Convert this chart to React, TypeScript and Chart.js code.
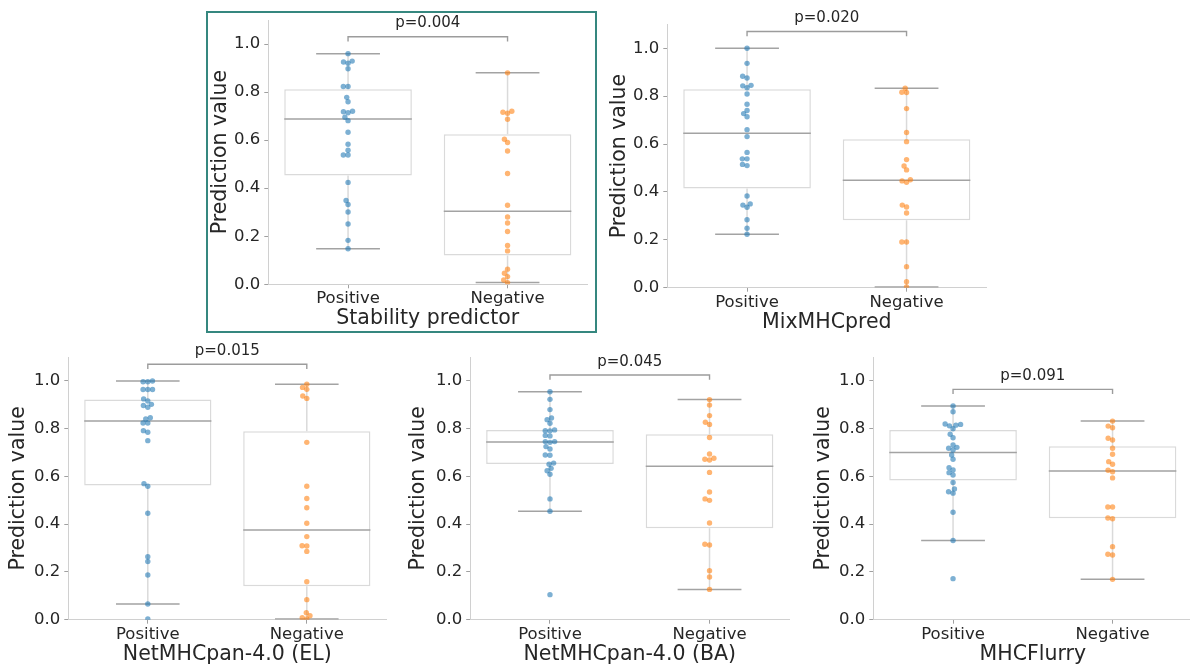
import React, { useEffect, useRef } from "react";
import { Chart, registerables } from "chart.js";

Chart.register(...registerables);

// ---- data -----------------------------------------------------------------

const categories = ["Positive", "Negative"];

const predictorNames = [
  "Stability predictor",
  "MixMHCpred",
  "NetMHCpan-4.0 (EL)",
  "NetMHCpan-4.0 (BA)",
  "MHCFlurry",
];

const pValueLabels = ["p=0.004", "p=0.020", "p=0.015", "p=0.045", "p=0.091"];

const yAxisTitle = "Prediction value";

const stabilityPositive = [
  0.96, 0.929, 0.925, 0.92, 0.897, 0.823, 0.823, 0.778, 0.76, 0.72, 0.718, 0.714, 0.695,
  0.681, 0.633, 0.583, 0.558, 0.538, 0.538, 0.424, 0.349, 0.332, 0.301, 0.251, 0.183, 0.148,
];
const stabilityNegative = [
  0.88, 0.72, 0.716, 0.712, 0.687, 0.604, 0.59, 0.555, 0.461, 0.329, 0.28, 0.255, 0.22,
  0.162, 0.139, 0.063, 0.046, 0.032, 0.018, 0.007,
];

const mixPositive = [
  1.0, 0.937, 0.883, 0.876, 0.845, 0.843, 0.835, 0.809, 0.766, 0.74, 0.727, 0.714, 0.66,
  0.631, 0.565, 0.538, 0.538, 0.515, 0.51, 0.383, 0.35, 0.345, 0.336, 0.284, 0.248, 0.223,
];
const mixNegative = [
  0.833, 0.816, 0.815, 0.748, 0.648, 0.61, 0.535, 0.508, 0.492, 0.451, 0.446, 0.44, 0.345,
  0.337, 0.312, 0.191, 0.191, 0.088, 0.025, 0.003,
];

const elPositive = [
  1.0, 0.997, 0.997, 0.964, 0.964, 0.964, 0.925, 0.916, 0.902, 0.897, 0.89, 0.846, 0.841,
  0.824, 0.824, 0.792, 0.785, 0.75, 0.57, 0.559, 0.446, 0.264, 0.244, 0.187, 0.066, 0.003,
];
const elNegative = [
  0.986, 0.973, 0.965, 0.937, 0.927, 0.743, 0.559, 0.508, 0.469, 0.404, 0.348, 0.31, 0.309,
  0.286, 0.159, 0.084, 0.029, 0.017, 0.008, 0.003,
];

const baPositive = [
  0.955, 0.923, 0.88, 0.845, 0.838, 0.823, 0.795, 0.792, 0.791, 0.772, 0.77, 0.746, 0.746,
  0.743, 0.725, 0.715, 0.69, 0.689, 0.656, 0.651, 0.634, 0.624, 0.609, 0.506, 0.454, 0.105,
];
const baNegative = [
  0.922, 0.899, 0.855, 0.827, 0.818, 0.763, 0.694, 0.676, 0.672, 0.669, 0.617, 0.535, 0.506,
  0.5, 0.405, 0.316, 0.313, 0.205, 0.179, 0.127,
];

const flurryPositive = [
  0.895, 0.871, 0.82, 0.818, 0.815, 0.812, 0.8, 0.777, 0.762, 0.732, 0.722, 0.718, 0.711,
  0.69, 0.672, 0.637, 0.627, 0.616, 0.606, 0.575, 0.548, 0.536, 0.53, 0.45, 0.332, 0.172,
];
const flurryNegative = [
  0.832, 0.811, 0.804, 0.76, 0.753, 0.718, 0.693, 0.662, 0.651, 0.626, 0.62, 0.594, 0.472,
  0.472, 0.426, 0.423, 0.306, 0.274, 0.271, 0.169,
];

const panelValues = [
  [stabilityPositive, stabilityNegative],
  [mixPositive, mixNegative],
  [elPositive, elNegative],
  [baPositive, baNegative],
  [flurryPositive, flurryNegative],
];

// ---- layout & style -------------------------------------------------------

// plot-area rectangles (page px) and axis-title centres for each panel
const frames = [
  { left: 268.3, right: 588.3, top: 20, bottom: 284.3, yTitleX: 220.5, xTitleY: 318.5 },
  { left: 667.3, right: 987.3, top: 24.3, bottom: 287.7, yTitleX: 619.5, xTitleY: 322.5 },
  { left: 68.3, right: 387.8, top: 357.1, bottom: 619.7, yTitleX: 19, xTitleY: 655 },
  { left: 470.2, right: 791, top: 357.1, bottom: 619.7, yTitleX: 419, xTitleY: 655 },
  { left: 873.3, right: 1193.3, top: 357.1, bottom: 619.7, yTitleX: 823.5, xTitleY: 655 },
];

const FONT = "'DejaVu Sans', 'Liberation Sans', sans-serif";
const TEXT = "#262626";
const TITLE_SIZE = 20.5;
const TICK_SIZE = 16.5;
const P_SIZE = 15;
const HALF_TITLE = (TITLE_SIZE * 1.2) / 2;
const SPINE = "#d0d0d0";
const TICK_MARK = "#a0a0a0";
const BOX_EDGE = "#dadada";
const WHISKER = "#dadada";
const MEDIAN = "#a3a3a3";
const BRACKET = "#9c9c9c";
const POINT_COLORS = ["rgba(31,119,180,0.58)", "rgba(255,127,14,0.58)"];
const POINT_RADIUS = 2.7;
const SWARM_R = 2.25;
const Y_MAX = 1.1;

Chart.defaults.font.family = FONT;

// ---- helpers --------------------------------------------------------------

function quantile(sorted: number[], p: number) {
  const idx = (sorted.length - 1) * p;
  const lo = Math.floor(idx);
  const hi = Math.ceil(idx);
  return sorted[lo] + (sorted[hi] - sorted[lo]) * (idx - lo);
}

function boxStats(values: number[]) {
  const s = [...values].sort((a, b) => a - b);
  const q1 = quantile(s, 0.25);
  const med = quantile(s, 0.5);
  const q3 = quantile(s, 0.75);
  const iqr = q3 - q1;
  const lo = Math.min(...s.filter((v) => v >= q1 - 1.5 * iqr));
  const hi = Math.max(...s.filter((v) => v <= q3 + 1.5 * iqr));
  return { q1, med, q3, lo, hi };
}

// beeswarm placement in pixel space: returns horizontal offsets (px)
function beeswarm(ys: number[], r: number): number[] {
  const order = ys.map((_, i) => i).sort((a, b) => ys[b] - ys[a]);
  const placed: { x: number; y: number }[] = [];
  const out = new Array(ys.length).fill(0);
  for (const i of order) {
    const y = ys[i];
    const neighbors = placed.filter((p) => Math.abs(p.y - y) < 2 * r);
    const cands: number[] = [0];
    let leftFirst = true;
    for (const n of neighbors) {
      const dy = y - n.y;
      const dx = Math.sqrt(Math.max(4 * r * r - dy * dy, 0)) * 1.05;
      if (leftFirst) cands.push(n.x - dx, n.x + dx);
      else cands.push(n.x + dx, n.x - dx);
      leftFirst = !leftFirst;
    }
    const ranked = cands
      .map((c, k) => ({ c, k }))
      .sort((a, b) => Math.abs(a.c) - Math.abs(b.c) || a.k - b.k);
    let chosen = 0;
    for (const { c } of ranked) {
      if (neighbors.every((n) => (n.x - c) ** 2 + (n.y - y) ** 2 >= 4 * r * r - 1e-6)) {
        chosen = c;
        break;
      }
    }
    placed.push({ x: chosen, y });
    out[i] = chosen;
  }
  return out;
}

function canvasBox(f: (typeof frames)[number]) {
  const x = Math.floor(f.yTitleX - HALF_TITLE - 1);
  const y = Math.max(0, Math.floor(f.top - 22));
  const right = Math.ceil(f.right) + 1;
  const bottom = Math.ceil(f.xTitleY + HALF_TITLE + 1);
  return { x, y, w: right - x, h: bottom - y };
}

const pValuePlugin = {
  id: "pValue",
  afterDatasetsDraw(chart: any, _args: any, opts: any) {
    const { ctx } = chart;
    const xs = chart.scales.x;
    const ys = chart.scales.y;
    const cx = (xs.getPixelForValue(0) + xs.getPixelForValue(1)) / 2;
    const ty = ys.getPixelForValue(opts.level) - 9.5;
    ctx.save();
    ctx.font = `${P_SIZE}px ${FONT}`;
    ctx.fillStyle = TEXT;
    ctx.textAlign = "center";
    ctx.textBaseline = "alphabetic";
    ctx.fillText(opts.text, cx, ty);
    ctx.restore();
  },
};

function makeConfig(k: number): any {
  const f = frames[k];
  const box = canvasBox(f);
  const groups = panelValues[k];
  const stats = groups.map((g) => boxStats(g));
  const peak = Math.max(...groups.flat());
  const bracketBase = peak + 0.05;
  const bracketTop = bracketBase + 0.02;

  const whiskerPts: any[] = [];
  const medianCapPts: any[] = [];
  stats.forEach((s, g) => {
    whiskerPts.push({ x: g, y: s.q3 }, { x: g, y: s.hi }, { x: g, y: null });
    whiskerPts.push({ x: g, y: s.q1 }, { x: g, y: s.lo }, { x: g, y: null });
    medianCapPts.push({ x: g - 0.4, y: s.med }, { x: g + 0.4, y: s.med }, { x: g, y: null });
    medianCapPts.push({ x: g - 0.2, y: s.hi }, { x: g + 0.2, y: s.hi }, { x: g, y: null });
    medianCapPts.push({ x: g - 0.2, y: s.lo }, { x: g + 0.2, y: s.lo }, { x: g, y: null });
  });

  const lineSet = (data: any[], color: string, width: number, order: number) => ({
    type: "scatter",
    showLine: true,
    spanGaps: false,
    data,
    borderColor: color,
    borderWidth: width,
    pointRadius: 0,
    pointHoverRadius: 0,
    order,
  });

  const yWidth = f.left - box.x;
  const xHeight = box.y + box.h - f.bottom;

  return {
    type: "scatter",
    data: {
      datasets: [
        {
          type: "bar",
          label: "box",
          data: stats.map((s, g) => ({ x: g, y: [s.q1, s.q3] })),
          backgroundColor: "#ffffff",
          borderColor: BOX_EDGE,
          borderWidth: 1.5,
          borderSkipped: false,
          barPercentage: 0.8,
          categoryPercentage: 1,
          order: 5,
        },
        lineSet(whiskerPts, WHISKER, 1.5, 4),
        lineSet(medianCapPts, MEDIAN, 1.5, 3),
        ...groups.map((vals, g) => ({
          type: "scatter",
          label: categories[g],
          data: vals.map((v) => ({ x: g, y: v })),
          backgroundColor: POINT_COLORS[g],
          borderWidth: 0,
          pointRadius: POINT_RADIUS,
          pointHoverRadius: POINT_RADIUS,
          order: 1,
        })),
        lineSet(
          [
            { x: 0, y: bracketBase },
            { x: 0, y: bracketTop },
            { x: 1, y: bracketTop },
            { x: 1, y: bracketBase },
          ],
          BRACKET,
          1.4,
          0
        ),
      ],
    },
    options: {
      responsive: false,
      animation: false,
      devicePixelRatio: 1,
      events: [],
      layout: {
        padding: { left: 0, top: f.top - box.y, right: box.x + box.w - f.right, bottom: 0 },
      },
      plugins: {
        legend: { display: false },
        tooltip: { enabled: false },
        title: { display: false },
        pValue: { text: pValueLabels[k], level: bracketTop },
      },
      scales: {
        x: {
          type: "linear",
          min: -0.5,
          max: 1.5,
          offset: false,
          afterFit: (scale: any) => {
            scale.height = xHeight;
          },
          afterBuildTicks: (scale: any) => {
            scale.ticks = categories.map((_, i) => ({ value: i }));
          },
          ticks: {
            autoSkip: false,
            maxRotation: 0,
            padding: 1,
            color: TEXT,
            font: { size: TICK_SIZE, family: FONT },
            callback: (v: number) => categories[Math.round(v)],
          },
          grid: {
            offset: false,
            drawOnChartArea: false,
            drawTicks: true,
            tickLength: 4,
            color: TICK_MARK,
          },
          border: { display: true, color: SPINE, width: 1 },
          title: {
            display: true,
            text: predictorNames[k],
            color: TEXT,
            font: { size: TITLE_SIZE, family: FONT },
            padding: { top: 0, bottom: box.y + box.h - f.xTitleY - HALF_TITLE },
          },
        },
        y: {
          type: "linear",
          min: 0,
          max: Y_MAX,
          afterFit: (scale: any) => {
            scale.width = yWidth;
          },
          ticks: {
            stepSize: 0.2,
            includeBounds: false,
            padding: 4,
            color: TEXT,
            font: { size: TICK_SIZE, family: FONT },
            callback: (v: number) => Number(v).toFixed(1),
          },
          grid: {
            drawOnChartArea: false,
            drawTicks: true,
            tickLength: 4,
            color: TICK_MARK,
          },
          border: { display: true, color: SPINE, width: 1 },
          title: {
            display: true,
            text: yAxisTitle,
            color: TEXT,
            font: { size: TITLE_SIZE, family: FONT },
            padding: { top: f.yTitleX - box.x - HALF_TITLE, bottom: 0 },
          },
        },
      },
    },
    plugins: [pValuePlugin],
  };
}

// spread each group's points sideways so that none overlap
function arrangeSwarm(chart: any, k: number) {
  const xs = chart.scales.x;
  const ys = chart.scales.y;
  const unit = xs.getPixelForValue(1) - xs.getPixelForValue(0);
  panelValues[k].forEach((vals, g) => {
    const ds = chart.data.datasets.find((d: any) => d.label === categories[g]);
    const offs = beeswarm(vals.map((v) => ys.getPixelForValue(v)), SWARM_R);
    ds.data = vals.map((v, i) => ({ x: g + offs[i] / unit, y: v }));
  });
  chart.update("none");
}

export default function App() {
  const refs = useRef<(HTMLCanvasElement | null)[]>([]);

  useEffect(() => {
    const charts = frames.map((_, k) => {
      const chart = new Chart(refs.current[k] as HTMLCanvasElement, makeConfig(k));
      arrangeSwarm(chart, k);
      return chart;
    });
    return () => charts.forEach((c) => c.destroy());
  }, []);

  return (
    <div
      style={{
        position: "absolute",
        left: 0,
        top: 0,
        width: 1190,
        height: 668,
        overflow: "hidden",
        background: "#ffffff",
      }}
    >
      {frames.map((f, k) => {
        const b = canvasBox(f);
        return (
          <canvas
            key={k}
            ref={(el) => {
              refs.current[k] = el;
            }}
            width={b.w}
            height={b.h}
            style={{ position: "absolute", left: b.x, top: b.y, width: b.w, height: b.h }}
          />
        );
      })}
      <div
        style={{
          position: "absolute",
          left: 206,
          top: 11,
          width: 391,
          height: 322,
          border: "2px solid #35877f",
          boxSizing: "border-box",
          pointerEvents: "none",
        }}
      />
    </div>
  );
}
